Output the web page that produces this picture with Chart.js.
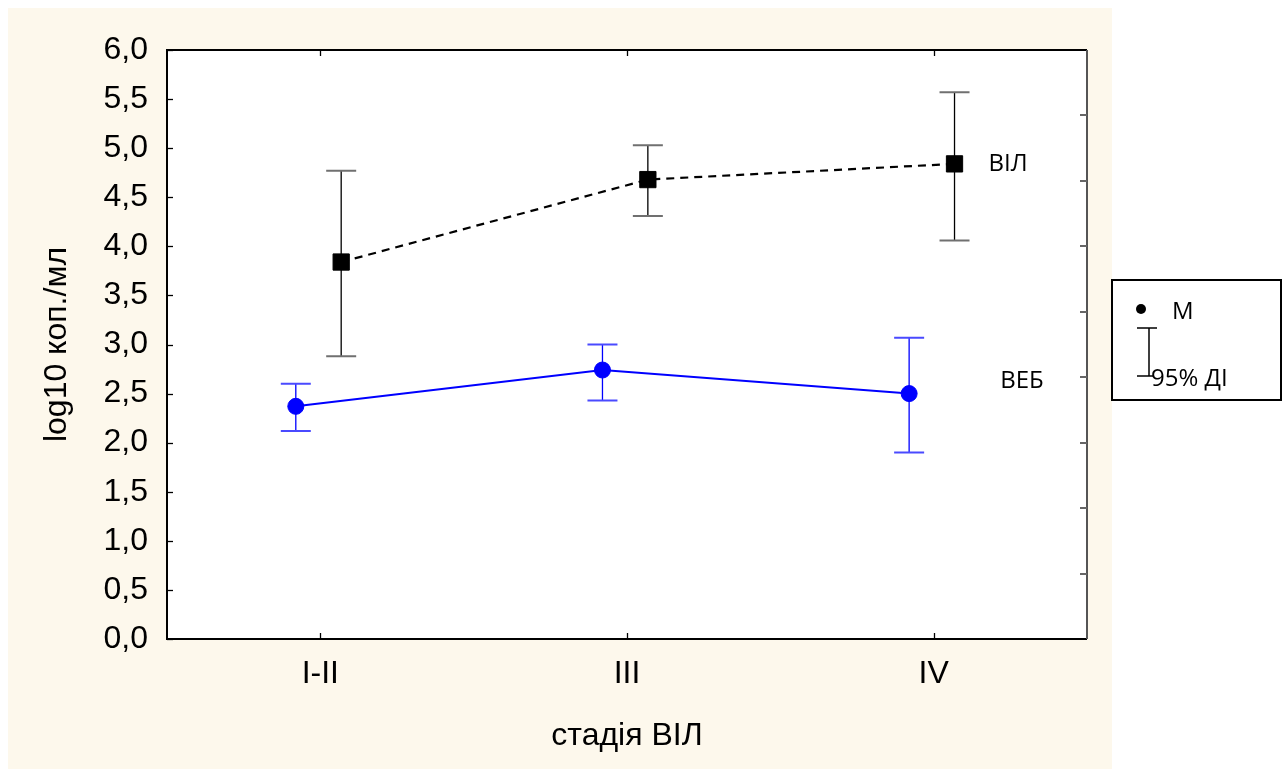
<!DOCTYPE html>
<html><head><meta charset="utf-8">
<script src="https://cdn.jsdelivr.net/npm/chart.js@4"></script>
<style>html,body{margin:0;padding:0;background:#fff}#wrap{width:1288px;height:769px;position:relative}</style>
</head><body><div id="wrap"><canvas id="c" width="1288" height="769"></canvas></div>
<script>
const categories = ['I-II', 'III', 'IV'];
const hivMean = [3.84, 4.68, 4.84];
const hivLow  = [2.88, 4.31, 4.06];
const hivHigh = [4.77, 5.03, 5.57];
const ebvMean = [2.37, 2.74, 2.50];
const ebvLow  = [2.12, 2.43, 1.90];
const ebvHigh = [2.60, 3.00, 3.07];
const seriesNames = ['ВІЛ', 'ВЕБ'];
const xTitle = 'стадія ВІЛ';
const yTitle = 'log10 коп./мл';
const legendLabels = ['М', '95% ДІ'];

const HIV_SHIFT = 0.068, EBV_SHIFT = -0.08;
const AX_FONT = "'Liberation Sans', Arial, sans-serif";
const LB_FONT = "'Open Sans', 'Noto Sans', sans-serif";

const decor = {
  id: 'decor',
  beforeDraw(chart) {
    const {ctx, chartArea: a} = chart;
    ctx.save();
    ctx.fillStyle = '#fff'; ctx.fillRect(0, 0, chart.width, chart.height);
    ctx.fillStyle = '#fdf8ec'; ctx.fillRect(8, 8, 1104, 761);
    ctx.fillStyle = '#fff'; ctx.fillRect(a.left, a.top, a.right - a.left, a.bottom - a.top);
    ctx.restore();
  },
  beforeDatasetsDraw(chart) {
    const {ctx} = chart;
    const y = chart.scales.y;
    chart.data.datasets.forEach((ds, i) => {
      const meta = chart.getDatasetMeta(i);
      meta.data.forEach((pt, j) => {
        const x = pt.x;
        const yl = y.getPixelForValue(ds.lows[j]);
        const yh = y.getPixelForValue(ds.highs[j]);
        ctx.save();
        ctx.strokeStyle = ds.errColor; ctx.lineWidth = 1.3;
        ctx.beginPath(); ctx.moveTo(x, yl); ctx.lineTo(x, yh); ctx.stroke();
        ctx.strokeStyle = ds.capColor; ctx.lineWidth = 2;
        ctx.beginPath();
        ctx.moveTo(x - 15, yl); ctx.lineTo(x + 15, yl);
        ctx.moveTo(x - 15, yh); ctx.lineTo(x + 15, yh);
        ctx.stroke();
        ctx.restore();
      });
    });
  },
  afterDraw(chart) {
    const {ctx, chartArea: a} = chart;
    const xs = chart.scales.x, ys = chart.scales.y, y2 = chart.scales.y2;
    ctx.save();
    ctx.lineWidth = 2;
    ctx.strokeStyle = '#000';
    ctx.beginPath();
    ctx.moveTo(a.right, a.top); ctx.lineTo(a.left, a.top); ctx.lineTo(a.left, a.bottom); ctx.lineTo(a.right, a.bottom);
    ctx.stroke();
    ctx.strokeStyle = '#555';
    ctx.beginPath(); ctx.moveTo(a.right, a.top); ctx.lineTo(a.right, a.bottom); ctx.stroke();
    ctx.lineWidth = 1.3; ctx.strokeStyle = '#000';
    ys.ticks.forEach(t => {
      const p = Math.round(ys.getPixelForValue(t.value)) + 0.5;
      ctx.beginPath(); ctx.moveTo(a.left, p); ctx.lineTo(a.left + 6, p); ctx.stroke();
    });
    xs.ticks.forEach(t => {
      const p = Math.round(xs.getPixelForValue(t.value)) + 0.5;
      ctx.beginPath(); ctx.moveTo(p, a.top); ctx.lineTo(p, a.top + 6); ctx.stroke();
      ctx.beginPath(); ctx.moveTo(p, a.bottom); ctx.lineTo(p, a.bottom - 6); ctx.stroke();
    });
    ctx.strokeStyle = '#666'; ctx.lineWidth = 2;
    y2.ticks.forEach(t => {
      if (t.value <= y2.min || t.value >= y2.max) return;
      const p = Math.round(y2.getPixelForValue(t.value));
      ctx.beginPath(); ctx.moveTo(a.right - 7, p); ctx.lineTo(a.right, p); ctx.stroke();
    });
    ctx.fillStyle = '#000';
    ctx.font = '24px ' + LB_FONT;
    ctx.textBaseline = 'middle'; ctx.textAlign = 'left';
    const m0 = chart.getDatasetMeta(0).data[2];
    const m1 = chart.getDatasetMeta(1).data[2];
    ctx.fillText(seriesNames[0], m0.x + 34, m0.y);
    ctx.fillText(seriesNames[1], m1.x + 91, m1.y - 12);
    ctx.fillStyle = '#fff'; ctx.fillRect(1112, 280, 169, 120);
    ctx.strokeStyle = '#000'; ctx.lineWidth = 2; ctx.strokeRect(1112, 280, 169, 120);
    ctx.fillStyle = '#000';
    ctx.beginPath(); ctx.arc(1141, 309, 5, 0, Math.PI * 2); ctx.fill();
    ctx.textBaseline = 'alphabetic';
    ctx.fillText(legendLabels[0], 1172, 319);
    ctx.lineWidth = 1.5;
    ctx.beginPath();
    ctx.moveTo(1149, 328); ctx.lineTo(1149, 376);
    ctx.moveTo(1137, 328); ctx.lineTo(1157, 328);
    ctx.moveTo(1137, 376); ctx.lineTo(1153, 376);
    ctx.stroke();
    ctx.fillText(legendLabels[1], 1151, 386);
    ctx.restore();
  }
};

new Chart(document.getElementById('c'), {
  type: 'line',
  data: {
    datasets: [
      {
        label: seriesNames[0],
        data: hivMean.map((v, i) => ({x: i + HIV_SHIFT, y: v})),
        lows: hivLow, highs: hivHigh,
        borderColor: '#000', borderWidth: 2.2, borderDash: [8, 6],
        pointStyle: 'rect', pointRadius: 11.5, pointBorderWidth: 1,
        pointBackgroundColor: '#000', pointBorderColor: '#000',
        errColor: '#000', capColor: '#707070',
        tension: 0
      },
      {
        label: seriesNames[1],
        data: ebvMean.map((v, i) => ({x: i + EBV_SHIFT, y: v})),
        lows: ebvLow, highs: ebvHigh,
        borderColor: '#0000ff', borderWidth: 2,
        pointStyle: 'circle', pointRadius: 8, pointBorderWidth: 1,
        pointBackgroundColor: '#0000ff', pointBorderColor: '#0000ff',
        errColor: '#0000ff', capColor: '#4a4aff',
        tension: 0
      }
    ]
  },
  options: {
    responsive: false,
    animation: false,
    layout: {padding: {left: 8, top: 50, right: 201, bottom: 0}},
    plugins: {legend: {display: false}, tooltip: {enabled: false}},
    scales: {
      x: {
        type: 'linear', min: -0.5, max: 2.5,
        afterBuildTicks: s => { s.ticks = categories.map((c, i) => ({value: i})); },
        afterFit: s => { s.height = 130; },
        grid: {display: false, drawTicks: false},
        border: {display: false},
        ticks: {
          callback: v => categories[v],
          font: {family: AX_FONT, size: 32}, color: '#000', padding: 16,
          maxRotation: 0, autoSkip: false
        },
        title: {display: true, text: xTitle, font: {family: AX_FONT, size: 32}, color: '#000', padding: {top: 0, bottom: 14}}
      },
      y: {
        min: 0, max: 6,
        afterFit: s => { s.width = 159; },
        grid: {display: false, drawTicks: false},
        border: {display: false},
        ticks: {
          stepSize: 0.5,
          callback: v => v.toFixed(1).replace('.', ','),
          font: {family: AX_FONT, size: 32}, color: '#000', padding: 19
        },
        title: {display: true, text: yTitle, font: {family: AX_FONT, size: 32}, color: '#000', padding: {top: 30, bottom: 0}}
      },
      y2: {
        position: 'right', display: false, min: 0, max: 9,
        ticks: {stepSize: 1}
      }
    }
  },
  plugins: [decor]
});
</script></body></html>
